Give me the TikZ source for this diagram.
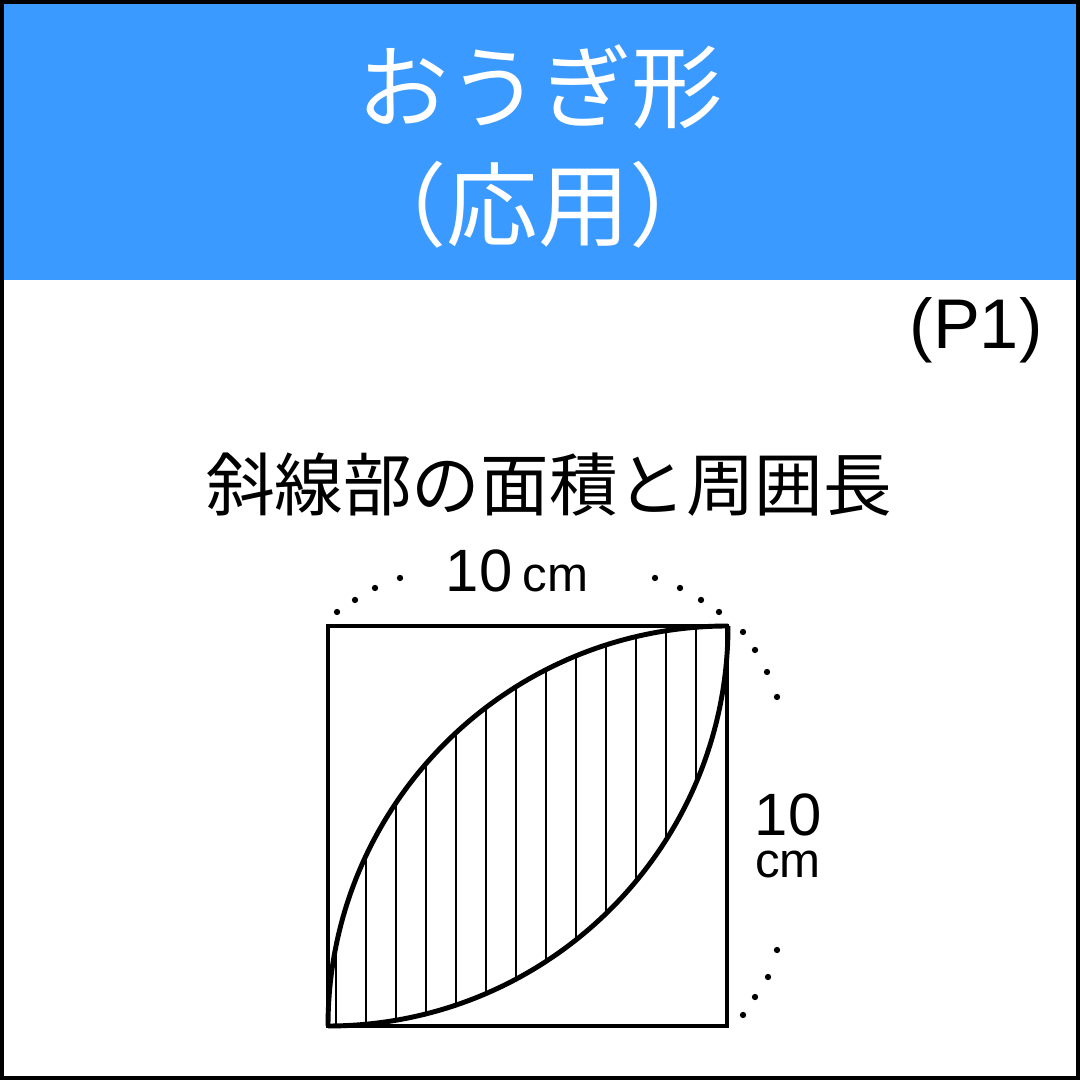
\documentclass[tikz,border=0pt]{standalone}
\usepackage{fontspec}
\setmainfont{Liberation Sans}
\newfontfamily\jp{Noto Sans CJK JP}
\usepackage{tikz}
\definecolor{bandblue}{RGB}{58,154,255}
\tikzset{
  frameline/.style={line width=2.3pt},
  sqline/.style={line width=1pt},
  arcline/.style={line width=1.4pt},
  hatch/.style={line width=0.8pt},
  dimdot/.style={circle, fill=black, inner sep=0pt, minimum size=1.8pt}
}
\begin{document}
\begin{tikzpicture}[x=0.01cm, y=0.01cm]
		\useasboundingbox (0,0) rectangle (1080,1080);
		% Header band
		\fill[bandblue] (0,800) rectangle (1080,1080);
		\node[text=white, font=\jp\fontsize{26}{30}\selectfont] (title) at (540,993) {おうぎ形};
		\node[text=white, font=\jp\fontsize{26}{30}\selectfont] (sub) at (538,875) {（応用）};
		\node[font=\fontsize{20}{24}\selectfont] (page) at (976,750) {(P1)};
		\node[font=\jp\fontsize{19.5}{24}\selectfont] (task) at (549,595) {斜線部の面積と周囲長};
		% Define corners
		\coordinate (bl) at (328,54);
		\coordinate (br) at (727,54);
		\coordinate (tl) at (328,454);
		\coordinate (tr) at (727,454);
		% Hatching
		\begin{scope}
			\clip (bl) arc[start angle=180, end angle=90, radius=400]
			           arc[start angle=0, end angle=-90, radius=400] -- cycle;
			\foreach \x in {0,...,13}
				\draw[hatch] (336+30*\x,40) -- (336+30*\x,470);
		\end{scope}
		\draw[sqline] (bl) rectangle (tr);
		\draw[arcline] (bl) arc[start angle=180, end angle=90, radius=400];
		\draw[arcline] (bl) arc[start angle=270, end angle=360, radius=400];
		% Dimensions
		\node[anchor=base] (toplen) at (517,488) {\fontsize{17}{20}\selectfont 10\,\fontsize{14}{16}\selectfont cm};
		\node[anchor=base, align=center, inner sep=0pt] (sidelen) at (788,202)
			{\fontsize{17}{12.6}\selectfont 10\\\fontsize{14}{12.6}\selectfont cm};
		\foreach \p in {(337,468),(355,480),(375,492),(400,502),
		                (655,502),(680,492),(701,480),(719,468),
		                (743,448),(755,430),(767,408),(777,383),
		                (777,130),(768,103),(755,83),(743,65)}
			\node[dimdot] at \p {};
		% Outer frame
		\draw[frameline] (0,0) rectangle (1080,1080);
\end{tikzpicture}
\end{document}
